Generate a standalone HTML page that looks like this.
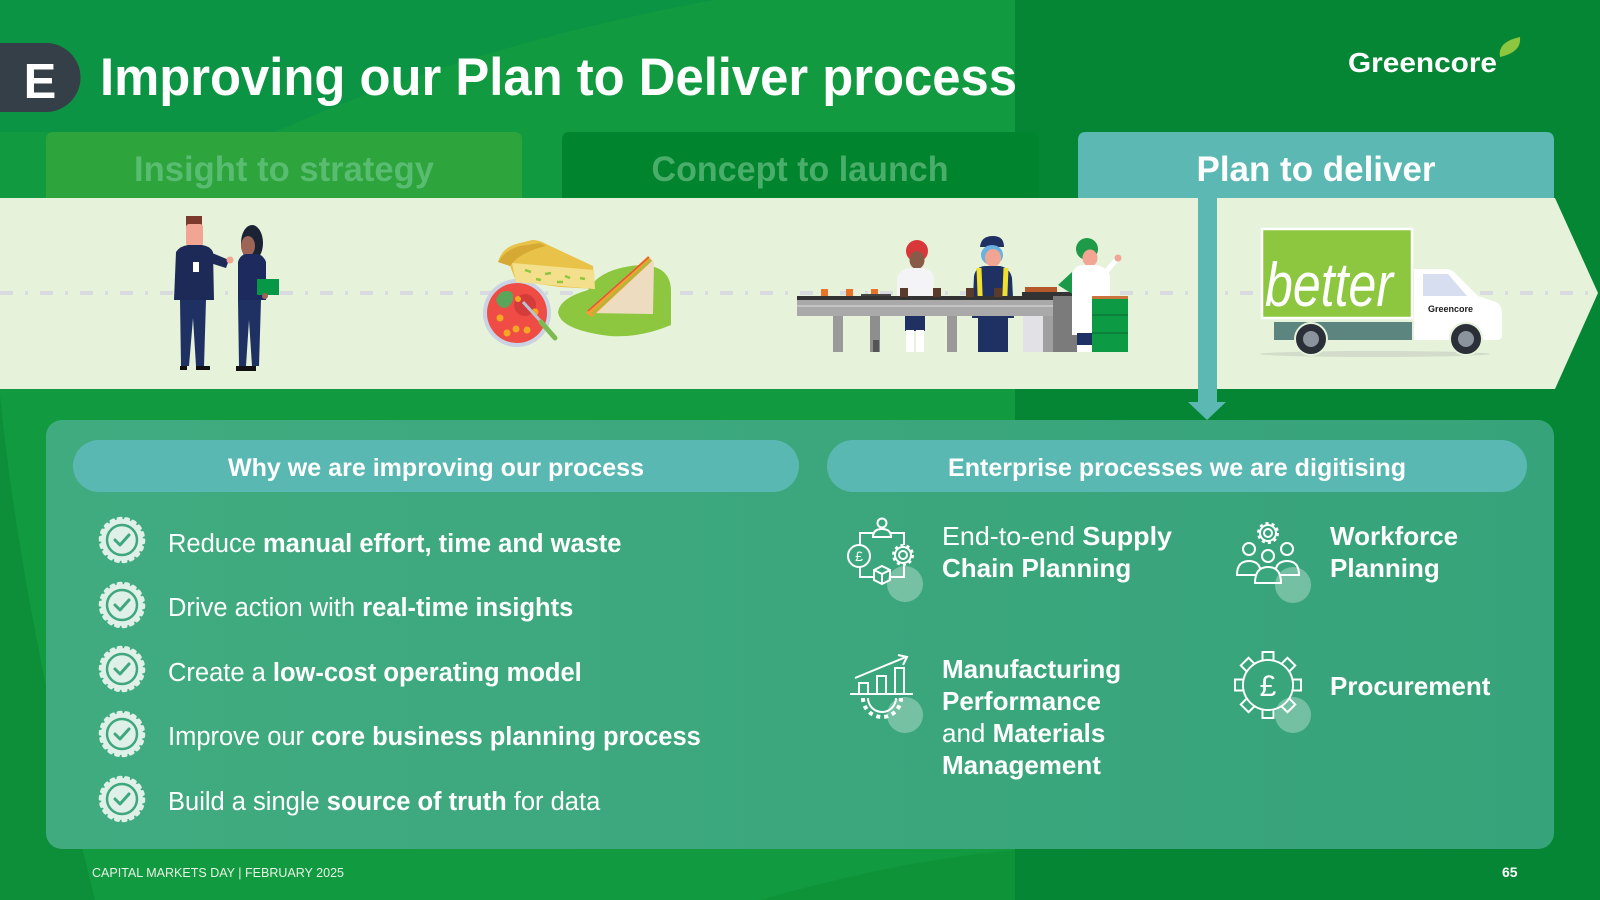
<!DOCTYPE html>
<html>
<head>
<meta charset="utf-8">
<style>
html,body{margin:0;padding:0;width:1600px;height:900px;overflow:hidden;background:#0f9840;}
svg{display:block;}
text{font-family:"Liberation Sans",sans-serif;}
</style>
</head>
<body>
<svg width="1600" height="900" viewBox="0 0 1600 900" xmlns="http://www.w3.org/2000/svg">
<defs>
<linearGradient id="pg" x1="0" y1="0" x2="1" y2="0">
<stop offset="0" stop-color="#41ab80"/>
<stop offset="1" stop-color="#37a37a"/>
</linearGradient>
</defs>
<!-- background -->
<rect x="0" y="0" width="1600" height="900" fill="#129a40"/>
<path d="M0,0 L714,0 Q470,45 275,132 L0,132 Z" fill="#0b9443"/>
<rect x="1015" y="0" width="585" height="900" fill="#058634"/>
<path d="M0,395 Q20,600 95,900 L0,900 Z" fill="#0c8f38"/>
<path d="M760,900 Q900,860 1015,850 L1015,900 Z" fill="#0f9338"/>

<!-- Badge E -->
<path d="M0,43 L46,43 A34.5,34.5 0 0 1 46,112 L0,112 Z" fill="#343f48"/>
<text x="40" y="98" font-size="49" font-weight="bold" fill="#fff" text-anchor="middle">E</text>
<!-- Title -->
<text x="100" y="95" font-size="53" font-weight="bold" fill="#fff" textLength="917" lengthAdjust="spacingAndGlyphs">Improving our Plan to Deliver process</text>

<!-- Logo -->
<text x="1348" y="72" font-size="28" font-weight="bold" fill="#fff" textLength="149" lengthAdjust="spacingAndGlyphs">Greencore</text>
<path d="M1500,57 Q1497,42 1520,37 Q1522,52 1500,57 Z" fill="#8dc63f"/>

<!-- Tabs -->
<path d="M46,198 L46,140 Q46,132 54,132 L514,132 Q522,132 522,140 L522,198 Z" fill="#2ea43c"/>
<text x="284" y="181" font-size="35" font-weight="bold" fill="#58bc71" text-anchor="middle" textLength="300" lengthAdjust="spacingAndGlyphs">Insight to strategy</text>
<path d="M562,198 L562,140 Q562,132 570,132 L1031,132 Q1039,132 1039,140 L1039,198 Z" fill="#00842e"/>
<text x="800" y="181" font-size="35" font-weight="bold" fill="#4aad6a" text-anchor="middle" textLength="297" lengthAdjust="spacingAndGlyphs">Concept to launch</text>
<path d="M1078,198 L1078,140 Q1078,132 1086,132 L1546,132 Q1554,132 1554,140 L1554,198 Z" fill="#5cb8b2"/>
<text x="1316" y="181" font-size="35" font-weight="bold" fill="#fff" text-anchor="middle" textLength="239" lengthAdjust="spacingAndGlyphs">Plan to deliver</text>

<!-- Band -->
<path d="M0,198 L1555,198 L1598,293 L1555,389 L0,389 Z" fill="#e6f3da"/>
<line x1="0" y1="293" x2="1590" y2="293" stroke="#d9dbe0" stroke-width="4" stroke-dasharray="13 12 3 12"/>

<!-- People -->
<g>
<rect x="186" y="216" width="16" height="11" fill="#7b3a2b"/>
<rect x="186" y="224" width="17" height="22" rx="3" fill="#f3a593"/>
<path d="M176,252 Q180,246 188,245 L202,245 Q210,246 213,252 L214,300 L174,300 Z" fill="#1d2a58"/>
<path d="M205,250 L229,260 L226,268 L207,262 Z" fill="#1d2a58"/>
<circle cx="230" cy="260" r="3.5" fill="#f3a593"/>
<rect x="193" y="262" width="6" height="10" fill="#fff"/>
<path d="M180,300 L206,300 L204,366 L196,366 L193,318 L189,366 L181,366 Z" fill="#1f3163"/>
<rect x="180" y="366" width="7" height="4" fill="#111"/>
<rect x="196" y="366" width="14" height="4" fill="#111"/>

<ellipse cx="252" cy="243" rx="11" ry="18" fill="#1a2233"/>
<ellipse cx="248" cy="246" rx="7" ry="10" fill="#9d6458"/>
<path d="M238,262 Q240,255 246,254 L258,254 Q264,256 266,262 L266,300 L238,300 Z" fill="#1c2a5e"/>
<path d="M238,300 L261,300 L259,366 L252,366 L249,320 L246,366 L239,366 Z" fill="#1f3163"/>
<rect x="236" y="366" width="20" height="5" fill="#111"/>
<rect x="257" y="279" width="22" height="16" fill="#079847"/>
<circle cx="265" cy="296" r="3" fill="#9d6458"/>
</g>

<!-- Food -->
<g>
<path d="M588,290 Q600,268 640,265 Q670,265 671,290 L671,325 Q640,338 610,336 Q560,330 558,312 Q560,298 588,290 Z" fill="#8dc63f"/>
<circle cx="517" cy="313" r="34" fill="#c9d3e3"/>
<circle cx="517" cy="313" r="30" fill="#ee4c45"/>
<circle cx="525" cy="305" r="11" fill="#d43c3a"/>
<path d="M496,300 Q500,288 512,292 Q516,302 506,308 Q498,308 496,300 Z" fill="#5ba55a"/>
<circle cx="500" cy="318" r="3.5" fill="#f5a623"/>
<circle cx="516" cy="329" r="3.5" fill="#f5a623"/>
<circle cx="507" cy="333" r="3.5" fill="#f5a623"/>
<circle cx="527" cy="330" r="3.5" fill="#f5a623"/>
<circle cx="535" cy="312" r="3.5" fill="#f5a623"/>
<circle cx="518" cy="299" r="3" fill="#f5a623"/>
<line x1="523" y1="302" x2="545" y2="326" stroke="#b8c4d4" stroke-width="3"/>
<line x1="541" y1="322" x2="555" y2="338" stroke="#7dbb52" stroke-width="5" stroke-linecap="round"/>
<path d="M498,262 Q502,248 516,244 L532,240 Q540,240 546,244 L593,266 L595,289 L560,287 L516,281 L510,266 Z" fill="#e9c24a"/>
<path d="M512,263 L594,270 L595,289 L516,282 Z" fill="#f4e08c"/>
<path d="M498,262 Q505,250 520,246 L540,243 L546,246 Q520,252 510,266 Z" fill="#d6a935"/>
<path d="M525,270 l6,2 M545,274 l6,-1 M565,276 l5,2 M536,279 l5,1 M557,282 l6,0 M580,278 l5,1" stroke="#8dc63f" stroke-width="2.5"/>
<path d="M586,313 L650,258 L654,262 L653,314 Z" fill="#eedcc0"/>
<path d="M586,313 L648,256 L652,261 L592,317 Z" fill="#f0a030"/>
<path d="M588,311 L649,257" stroke="#e2553a" stroke-width="1.5"/>
<path d="M592,314 L651,260" stroke="#8dc63f" stroke-width="1.5"/>
</g>

<!-- Production line -->
<g>
<rect x="821" y="289" width="7" height="9" fill="#e8732a"/>
<rect x="846" y="289" width="7" height="9" fill="#e8732a"/>
<rect x="871" y="289" width="7" height="9" fill="#e8732a"/>
<rect x="861" y="294" width="30" height="4" fill="#444"/>
<!-- worker 1 -->
<circle cx="917" cy="251" r="11" fill="#d9383a"/>
<ellipse cx="917" cy="260" rx="7.5" ry="9" fill="#8a5a48"/>
<path d="M897,278 Q900,268 912,268 L924,268 Q934,270 934,280 L934,300 L897,300 Z" fill="#f4f4f6"/>
<rect x="905" y="314" width="20" height="17" fill="#1f3163"/>
<rect x="906" y="330" width="8" height="22" fill="#fff"/>
<rect x="916" y="330" width="8" height="22" fill="#fff"/>
<!-- worker 2 -->
<path d="M980,247 Q981,236 993,236 Q1004,236 1004,247 Z" fill="#1f3163"/>
<ellipse cx="992" cy="255" rx="11" ry="10" fill="#6ab0e0"/>
<ellipse cx="993" cy="258" rx="8" ry="9" fill="#f3a593"/>
<path d="M974,276 Q976,266 986,266 L1000,266 Q1010,268 1012,278 L1014,318 L972,318 Z" fill="#1f3163"/>
<path d="M979,268 L981,318 M1006,268 L1004,318" stroke="#f0e030" stroke-width="5"/>
<rect x="978" y="316" width="30" height="36" fill="#1f3163"/>
<!-- conveyor -->
<rect x="797" y="296" width="263" height="4" fill="#333"/>
<rect x="797" y="300" width="263" height="16" fill="#a9a9a9"/>
<rect x="797" y="305" width="263" height="2" fill="#c4c4c4"/>
<rect x="833" y="316" width="10" height="36" fill="#9a9a9a"/>
<rect x="870" y="316" width="10" height="36" fill="#8e8e8e"/>
<rect x="873" y="340" width="6" height="12" fill="#555"/>
<rect x="947" y="316" width="10" height="36" fill="#9a9a9a"/>
<rect x="1023" y="316" width="20" height="36" fill="#e2e2e6"/>
<rect x="1043" y="316" width="10" height="36" fill="#a0a0a0"/>
<rect x="1053" y="295" width="24" height="57" fill="#7b7b7b"/>
<rect x="1022" y="292" width="55" height="4" fill="#333"/>
<rect x="900" y="288" width="8" height="9" fill="#5a3a2a"/>
<rect x="933" y="288" width="8" height="9" fill="#5a3a2a"/>
<rect x="966" y="288" width="8" height="9" fill="#5a3a2a"/>
<rect x="994" y="288" width="8" height="9" fill="#5a3a2a"/>
<rect x="1025" y="287" width="32" height="5" fill="#b5582a"/>
<!-- worker 3 -->
<path d="M1058,285 L1072,272 L1074,295 Z" fill="#1a9a48"/>
<circle cx="1087" cy="249" r="11" fill="#1f9a48"/>
<ellipse cx="1090" cy="258" rx="7.5" ry="8.5" fill="#f3a593"/>
<path d="M1072,275 Q1074,265 1084,265 L1096,265 Q1106,266 1110,276 L1110,335 L1072,335 Z" fill="#fff"/>
<path d="M1106,272 L1116,260" stroke="#fff" stroke-width="5"/>
<circle cx="1118" cy="258" r="3.5" fill="#f3a593"/>
<rect x="1077" y="333" width="18" height="12" fill="#1f3163"/>
<rect x="1077" y="345" width="18" height="7" fill="#fff"/>
<!-- crates -->
<rect x="1092" y="298" width="36" height="54" fill="#0c9a45"/>
<rect x="1092" y="296" width="36" height="3" fill="#c8743a"/>
<path d="M1092,315 L1128,315 M1092,333 L1128,333" stroke="#0a7a38" stroke-width="1.5"/>
</g>

<!-- Truck -->
<g>
<ellipse cx="1375" cy="354" rx="115" ry="3" fill="#d3dccb"/>
<rect x="1274" y="322" width="138" height="18" fill="#5b857e"/>
<path d="M1414,269 L1445,269 Q1452,269 1456,274 L1478,296 L1496,302 Q1502,305 1502,315 L1502,335 Q1502,340 1496,340 L1414,340 Z" fill="#fff"/>
<path d="M1423,274 L1448,274 L1467,296 L1423,296 Z" fill="#d6def0"/>
<text x="1428" y="312" font-size="9" font-weight="bold" fill="#1a1a1a">Greencore</text>
<rect x="1262" y="229" width="150" height="89" fill="#8dc63f" stroke="#fff" stroke-width="2.5"/>
<text x="1265" y="306" font-family="'Liberation Serif',serif" font-style="italic" font-size="62" fill="#fff" textLength="128" lengthAdjust="spacingAndGlyphs">better</text>
<circle cx="1311" cy="339" r="16" fill="#2b2f38" stroke="#e6f3da" stroke-width="2"/>
<circle cx="1311" cy="339" r="8" fill="#8b939c"/>
<circle cx="1466" cy="339" r="16" fill="#2b2f38" stroke="#e6f3da" stroke-width="2"/>
<circle cx="1466" cy="339" r="8" fill="#8b939c"/>
</g>

<!-- vertical arrow -->
<rect x="1198" y="198" width="19" height="205" fill="#5cb8b2"/>
<path d="M1188,402 L1226,402 L1207,420 Z" fill="#5cb8b2"/>

<!-- Panel -->
<rect x="46" y="420" width="1508" height="429" rx="16" fill="url(#pg)"/>
<rect x="73" y="440" width="726" height="52" rx="26" fill="#5ab8b2"/>
<text x="436" y="476" font-size="25" font-weight="bold" fill="#fff" text-anchor="middle" textLength="416" lengthAdjust="spacingAndGlyphs">Why we are improving our process</text>
<rect x="827" y="440" width="700" height="52" rx="26" fill="#5ab8b2"/>
<text x="1177" y="476" font-size="25" font-weight="bold" fill="#fff" text-anchor="middle" textLength="458" lengthAdjust="spacingAndGlyphs">Enterprise processes we are digitising</text>

<!-- check badges -->
<g id="cb" transform="translate(122,540)">
<circle r="21" fill="#dff0e8"/>
<circle r="21.5" fill="none" stroke="#dff0e8" stroke-width="3.5" stroke-dasharray="2.5 5" stroke-linecap="round"/>
<circle r="15" fill="none" stroke="#3ea77d" stroke-width="2.5"/>
<path d="M-7,0 L-2,5 L7,-5" fill="none" stroke="#3ea77d" stroke-width="3" stroke-linecap="round" stroke-linejoin="round"/>
</g>
<g transform="translate(122,605)">
<circle r="21" fill="#dff0e8"/>
<circle r="21.5" fill="none" stroke="#dff0e8" stroke-width="3.5" stroke-dasharray="2.5 5" stroke-linecap="round"/>
<circle r="15" fill="none" stroke="#3ea77d" stroke-width="2.5"/>
<path d="M-7,0 L-2,5 L7,-5" fill="none" stroke="#3ea77d" stroke-width="3" stroke-linecap="round" stroke-linejoin="round"/>
</g>
<g transform="translate(122,669)">
<circle r="21" fill="#dff0e8"/>
<circle r="21.5" fill="none" stroke="#dff0e8" stroke-width="3.5" stroke-dasharray="2.5 5" stroke-linecap="round"/>
<circle r="15" fill="none" stroke="#3ea77d" stroke-width="2.5"/>
<path d="M-7,0 L-2,5 L7,-5" fill="none" stroke="#3ea77d" stroke-width="3" stroke-linecap="round" stroke-linejoin="round"/>
</g>
<g transform="translate(122,734)">
<circle r="21" fill="#dff0e8"/>
<circle r="21.5" fill="none" stroke="#dff0e8" stroke-width="3.5" stroke-dasharray="2.5 5" stroke-linecap="round"/>
<circle r="15" fill="none" stroke="#3ea77d" stroke-width="2.5"/>
<path d="M-7,0 L-2,5 L7,-5" fill="none" stroke="#3ea77d" stroke-width="3" stroke-linecap="round" stroke-linejoin="round"/>
</g>
<g transform="translate(122,799)">
<circle r="21" fill="#dff0e8"/>
<circle r="21.5" fill="none" stroke="#dff0e8" stroke-width="3.5" stroke-dasharray="2.5 5" stroke-linecap="round"/>
<circle r="15" fill="none" stroke="#3ea77d" stroke-width="2.5"/>
<path d="M-7,0 L-2,5 L7,-5" fill="none" stroke="#3ea77d" stroke-width="3" stroke-linecap="round" stroke-linejoin="round"/>
</g>

<g font-size="25.5" fill="#fff">
<text x="168" y="552">Reduce <tspan font-weight="bold">manual effort, time and waste</tspan></text>
<text x="168" y="616">Drive action with <tspan font-weight="bold">real-time insights</tspan></text>
<text x="168" y="681">Create a <tspan font-weight="bold">low-cost operating model</tspan></text>
<text x="168" y="745">Improve our <tspan font-weight="bold">core business planning process</tspan></text>
<text x="168" y="810">Build a single <tspan font-weight="bold">source of truth</tspan> for data</text>
</g>

<!-- Right items text -->
<g font-size="26" fill="#fff">
<text x="942" y="545" textLength="230" lengthAdjust="spacingAndGlyphs">End-to-end <tspan font-weight="bold">Supply</tspan></text>
<text x="942" y="577" font-weight="bold">Chain Planning</text>
<text x="942" y="678" font-weight="bold">Manufacturing</text>
<text x="942" y="710" font-weight="bold">Performance</text>
<text x="942" y="742">and <tspan font-weight="bold">Materials</tspan></text>
<text x="942" y="774" font-weight="bold">Management</text>
<text x="1330" y="545" font-weight="bold">Workforce</text>
<text x="1330" y="577" font-weight="bold">Planning</text>
<text x="1330" y="695" font-weight="bold">Procurement</text>
</g>

<!-- Supply chain icon -->
<g fill="none" stroke="#fff" stroke-width="2">
<circle cx="882" cy="523" r="4.5"/>
<path d="M873,537 Q873,529 882,529 Q891,529 891,537 Z"/>
<path d="M873,533 L860,533 L860,545 M891,533 L904,533 L904,545 M860,567 L860,577 L873,577 M904,565 L904,577 L891,577"/>
<circle cx="859" cy="556" r="11"/>
<circle cx="903" cy="555" r="4"/>
<circle cx="903" cy="555" r="8"/>
<circle cx="903" cy="555" r="9.5" stroke-width="3" stroke-dasharray="3 3"/>
<path d="M874,570 L882,566 L890,570 L890,580 L882,584 L874,580 Z M874,570 L882,574 L890,570 M882,574 L882,584"/>
</g>
<text x="859" y="561" font-size="14" fill="#fff" text-anchor="middle">£</text>
<circle cx="905" cy="584" r="18" fill="#fff" fill-opacity="0.3"/>

<!-- Manufacturing icon -->
<g fill="none" stroke="#fff" stroke-width="2">
<path d="M855,678 L906,657 M898,655 L907,657 L903,665"/>
<rect x="859" y="683" width="9" height="11"/>
<rect x="877" y="676" width="9" height="18"/>
<rect x="895" y="668" width="9" height="26"/>
<path d="M850,694 L913,694"/>
<path d="M868,698 A14,14 0 0 0 896,698"/>
<path d="M863,698 A19,19 0 0 0 901,698" stroke-width="4" stroke-dasharray="4 4"/>
</g>
<circle cx="905" cy="715" r="18" fill="#fff" fill-opacity="0.3"/>

<!-- Workforce icon -->
<g fill="none" stroke="#fff" stroke-width="2">
<circle cx="1268" cy="533" r="4"/>
<circle cx="1268" cy="533" r="8"/>
<circle cx="1268" cy="533" r="9.5" stroke-width="3" stroke-dasharray="3 3"/>
<circle cx="1249" cy="549" r="6"/>
<circle cx="1287" cy="549" r="6"/>
<path d="M1237,575 Q1237,561 1249,561 Q1261,561 1261,575 Z"/>
<path d="M1275,575 Q1275,561 1287,561 Q1299,561 1299,575 Z"/>
<circle cx="1268" cy="556" r="6" fill="#3aa67d"/>
<path d="M1255,583 Q1255,567 1268,567 Q1281,567 1281,583 Z" fill="#3aa67d"/>
</g>
<circle cx="1293" cy="585" r="18" fill="#fff" fill-opacity="0.3"/>

<!-- Procurement icon -->
<g fill="#38a57b" stroke="#fff" stroke-width="2">
<rect x="1262.5" y="652" width="11" height="10" transform="rotate(0 1268 685)"/>
<rect x="1262.5" y="652" width="11" height="10" transform="rotate(45 1268 685)"/>
<rect x="1262.5" y="652" width="11" height="10" transform="rotate(90 1268 685)"/>
<rect x="1262.5" y="652" width="11" height="10" transform="rotate(135 1268 685)"/>
<rect x="1262.5" y="652" width="11" height="10" transform="rotate(180 1268 685)"/>
<rect x="1262.5" y="652" width="11" height="10" transform="rotate(225 1268 685)"/>
<rect x="1262.5" y="652" width="11" height="10" transform="rotate(270 1268 685)"/>
<rect x="1262.5" y="652" width="11" height="10" transform="rotate(315 1268 685)"/>
<circle cx="1268" cy="685" r="25"/>
</g>
<circle cx="1268" cy="685" r="24" fill="#38a57b"/>
<text x="1268" y="696" font-size="30" fill="#fff" text-anchor="middle">£</text>
<circle cx="1293" cy="715" r="18" fill="#fff" fill-opacity="0.3"/>

<!-- Footer -->
<text x="92" y="877" font-size="13" fill="#e6f3e6" textLength="252" lengthAdjust="spacingAndGlyphs">CAPITAL MARKETS DAY | FEBRUARY 2025</text>
<text x="1502" y="877" font-size="14" font-weight="bold" fill="#fff">65</text>
</svg>
</body>
</html>
